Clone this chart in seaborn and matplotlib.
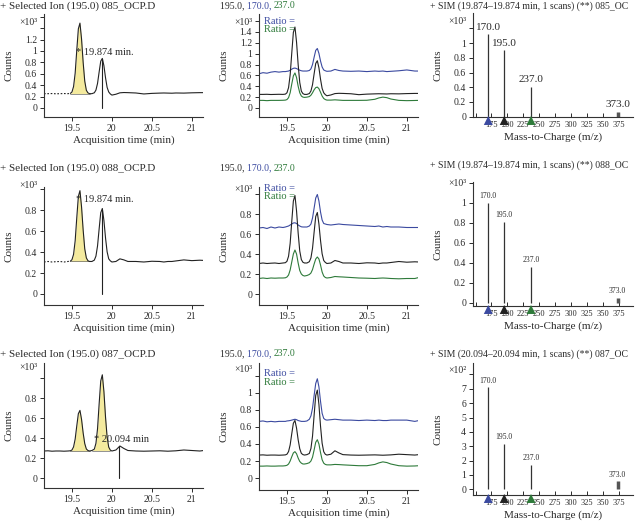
import numpy as np
import matplotlib
matplotlib.use("Agg")
import matplotlib.pyplot as plt
import matplotlib.transforms as mtransforms
import seaborn as sns

# ---- data ----
# acquisition time grid (min), shared by every chromatogram trace
time_min = [19.15, 19.2, 19.25, 19.3, 19.35, 19.4, 19.45, 19.48, 19.5, 19.52,
            19.54, 19.56, 19.58, 19.6, 19.62, 19.64, 19.66, 19.68, 19.7, 19.72,
            19.75, 19.78, 19.8, 19.82, 19.84, 19.86, 19.88, 19.9, 19.92, 19.94,
            19.96, 19.98, 20.0, 20.05, 20.1, 20.15, 20.2, 20.3, 20.4, 20.5,
            20.6, 20.65, 20.7, 20.75, 20.8, 20.9, 21.0, 21.1, 21.15]

# counts (x10^3) - sample 085_OCP.D
ion195_r1 = [0.25, 0.25, 0.252, 0.248, 0.25, 0.252, 0.25,
             0.255, 0.28, 0.375, 0.61, 1.01, 1.39, 1.49, 1.21, 0.80, 0.47, 0.31, 0.264,
             0.25, 0.25,
             0.266, 0.313, 0.43, 0.63, 0.82, 0.87, 0.74, 0.53, 0.36, 0.28, 0.245,
             0.225, 0.24, 0.265, 0.27, 0.268, 0.262, 0.245, 0.255, 0.26, 0.262,
             0.26, 0.258, 0.262, 0.26, 0.265, 0.268, 0.268]
ion170_r1 = [0.63, 0.65, 0.64, 0.66, 0.67, 0.66, 0.67,
             0.67, 0.675, 0.68, 0.695, 0.715, 0.73, 0.735, 0.725, 0.71, 0.695, 0.685, 0.68,
             0.68, 0.68,
             0.69, 0.72, 0.80, 0.935, 1.06, 1.095, 1.005, 0.865, 0.755, 0.70, 0.685,
             0.675, 0.68, 0.71, 0.69, 0.68, 0.675, 0.68, 0.67, 0.68, 0.675,
             0.68, 0.67, 0.675, 0.685, 0.70, 0.68, 0.68]
ion237_r1 = [0.14, 0.14, 0.135, 0.14, 0.14, 0.14, 0.142,
             0.145, 0.155, 0.19, 0.28, 0.44, 0.59, 0.645, 0.56, 0.40, 0.28, 0.22, 0.20,
             0.195, 0.20,
             0.21, 0.235, 0.28, 0.335, 0.375, 0.385, 0.355, 0.29, 0.22, 0.175, 0.155,
             0.145, 0.145, 0.15, 0.145, 0.14, 0.14, 0.14, 0.142, 0.16, 0.185,
             0.2, 0.19, 0.165, 0.14, 0.135, 0.138, 0.14]

# sample 088_OCP.D
ion195_r2 = [0.305, 0.31, 0.305, 0.308, 0.31, 0.305, 0.31,
             0.313, 0.327, 0.378, 0.507, 0.725, 0.93, 0.985, 0.83, 0.61, 0.43, 0.344, 0.317,
             0.31, 0.31,
             0.323, 0.361, 0.458, 0.62, 0.775, 0.815, 0.70, 0.535, 0.402, 0.335, 0.316,
             0.305, 0.31, 0.335, 0.325, 0.31, 0.31, 0.305, 0.312, 0.31, 0.305,
             0.31, 0.31, 0.315, 0.325, 0.318, 0.322, 0.32]
ion170_r2 = [0.66, 0.665, 0.655, 0.67, 0.66, 0.67, 0.665,
             0.67, 0.675, 0.68, 0.69, 0.70, 0.71, 0.712, 0.705, 0.69, 0.68, 0.672, 0.67,
             0.67, 0.67,
             0.68, 0.70, 0.76, 0.86, 0.96, 0.995, 0.93, 0.82, 0.74, 0.705, 0.70,
             0.695, 0.69, 0.695, 0.70, 0.695, 0.69, 0.685, 0.68, 0.675, 0.68,
             0.67, 0.675, 0.67, 0.67, 0.665, 0.665, 0.665]
ion237_r2 = [0.155, 0.16, 0.155, 0.16, 0.158, 0.16, 0.16,
             0.162, 0.17, 0.19, 0.24, 0.32, 0.40, 0.44, 0.40, 0.31, 0.235, 0.20, 0.185,
             0.18, 0.185,
             0.195, 0.21, 0.245, 0.30, 0.35, 0.37, 0.35, 0.29, 0.22, 0.18, 0.165,
             0.16, 0.165, 0.175, 0.172, 0.17, 0.165, 0.16, 0.158, 0.155, 0.158,
             0.16, 0.158, 0.155, 0.152, 0.155, 0.155, 0.165]

# sample 087_OCP.D
ion195_r3 = [0.27, 0.272, 0.268, 0.27, 0.27, 0.268, 0.27,
             0.272, 0.28, 0.311, 0.389, 0.52, 0.643, 0.676, 0.586, 0.45, 0.344, 0.29, 0.275,
             0.27, 0.275,
             0.289, 0.347, 0.493, 0.74, 0.97, 1.032, 0.863, 0.609, 0.409, 0.309, 0.279,
             0.27, 0.28, 0.32, 0.295, 0.275, 0.27, 0.268, 0.27, 0.272, 0.27,
             0.268, 0.27, 0.272, 0.28, 0.275, 0.27, 0.275]
ion170_r3 = [0.665, 0.67, 0.66, 0.665, 0.66, 0.665, 0.665,
             0.665, 0.67, 0.672, 0.675, 0.68, 0.685, 0.69, 0.685, 0.675, 0.67, 0.665, 0.665,
             0.665, 0.67,
             0.69, 0.73, 0.82, 0.97, 1.11, 1.165, 1.07, 0.90, 0.76, 0.70, 0.685,
             0.68, 0.685, 0.69, 0.685, 0.68, 0.68, 0.675, 0.68, 0.675, 0.68,
             0.675, 0.675, 0.68, 0.68, 0.68, 0.665, 0.675]
ion237_r3 = [0.14, 0.14, 0.142, 0.14, 0.14, 0.142, 0.142,
             0.145, 0.15, 0.165, 0.20, 0.25, 0.295, 0.31, 0.285, 0.235, 0.195, 0.175, 0.165,
             0.165, 0.17,
             0.18, 0.20, 0.245, 0.33, 0.42, 0.45, 0.40, 0.30, 0.215, 0.175, 0.16,
             0.155, 0.155, 0.16, 0.158, 0.155, 0.15, 0.145, 0.145, 0.16, 0.178,
             0.19, 0.182, 0.165, 0.145, 0.14, 0.142, 0.145]

# SIM spectra
mz_peaks = [170.0, 195.0, 237.0, 373.0]
spec_r1 = [1.12, 0.90, 0.40, 0.06]    # x10^3
spec_r2 = [1.00, 0.81, 0.36, 0.05]    # x10^3
spec_r3 = [7.1, 3.15, 1.68, 0.55]     # x10^2

chrom_titles = ["+ Selected Ion (195.0) 085_OCP.D",
                "+ Selected Ion (195.0) 088_OCP.D",
                "+ Selected Ion (195.0) 087_OCP.D"]
spec_titles = ["+ SIM (19.874\u201319.874 min, 1 scans) (**) 085_OC",
               "+ SIM (19.874\u201319.874 min, 1 scans) (**) 088_OC",
               "+ SIM (20.094\u201320.094 min, 1 scans) (**) 087_OC"]
scan_times = [19.874, 19.874, 20.094]
scan_notes = ["* 19.874 min.", "* 19.874 min.", "* 20.094 min"]
shaded_peaks = [[(19.47, 19.72)], [(19.47, 19.72)], [(19.47, 19.72), (19.75, 19.99)]]
spec_mult = ["\u00d710\u00b3", "\u00d710\u00b3", "\u00d710\u00b2"]

traces = [(ion195_r1, ion170_r1, ion237_r1),
          (ion195_r2, ion170_r2, ion237_r2),
          (ion195_r3, ion170_r3, ion237_r3)]
spectra = [spec_r1, spec_r2, spec_r3]

# ---- styling ----
sns.set_theme(style="ticks")
TXT = "#2b2b2b"
BLUE = "#3b4aa0"
GREEN = "#2e7a3a"
YELLOW = "#f4ea9e"
plt.rcParams.update({
    "font.family": ["Liberation Serif", "DejaVu Serif"],
    "text.color": TXT, "axes.labelcolor": TXT,
    "xtick.color": TXT, "ytick.color": TXT,
    "axes.edgecolor": "#333333", "axes.linewidth": 0.8,
    "xtick.major.width": 0.7, "ytick.major.width": 0.7,
    "xtick.major.size": 3, "ytick.major.size": 3,
    "xtick.labelsize": 7, "ytick.labelsize": 7,
    "axes.labelsize": 8,
})

W, H = 635, 526
fig = plt.figure(figsize=(W / 100, H / 100), dpi=100)


def px_axes(l, t, r, b):
    return fig.add_axes([l / W, 1 - b / H, (r - l) / W, (b - t) / H])


def set_y(ax, ylim, ticks, nlab, mult, mult_y):
    ax.set_ylim(*ylim)
    ax.set_yticks(ticks)
    ax.set_yticklabels([f"{v:g}" if i < nlab else "" for i, v in enumerate(ticks)])
    ax.text(-0.04, mult_y, mult, transform=ax.get_yaxis_transform(),
            ha="right", va="center", fontsize=7)
    ax.set_ylabel("Counts")
    ax.yaxis.set_label_coords(-0.19, 0.5)
    ax.tick_params(axis="y", pad=2)


def color_title(x_px, y_px, parts, size):
    renderer = fig.canvas.get_renderer()
    tr = fig.transFigure
    for s, c in parts:
        txt = fig.text(x_px / W, 1 - y_px / H, s, color=c, transform=tr,
                       fontsize=size, va="center")
        ext = txt.get_window_extent(renderer)
        tr = mtransforms.offset_copy(txt.get_transform(), x=ext.width, units="dots")


# panel boxes in pixels (left, top, right, bottom)
col_x = [(44, 203), (259, 418), (473, 633)]
row_y = [[(14, 117), (14, 117), (13, 117)],
         [(187, 305), (187, 305), (182, 306)],
         [(363, 488), (363, 490), (363, 495)]]
title_y = [[6, 6, 6], [168, 168, 165], [354, 354, 354]]

chrom_y = [((-0.16, 1.65), np.arange(0, 1.61, 0.2), 7, 1.5),
           ((-0.105, 1.02), np.arange(0, 1.01, 0.2), 5, 1.03),
           ((-0.10, 1.15), np.arange(0, 1.01, 0.2), 5, 1.1)]
ratio_y = [((-0.166, 1.73), np.arange(0, 1.61, 0.2), 8, 1.58, 0.93, 0.85),
           ((-0.11, 1.07), np.arange(0, 1.01, 0.2), 5, 1.05, 0.99, 0.92),
           ((-0.14, 1.35), np.arange(0, 1.21, 0.2), 6, 1.27, 0.92, 0.85)]
spec_y = [((-0.005, 1.41), np.arange(0, 1.21, 0.2), 6, 1.3, 8),
          ((-0.03, 1.21), np.arange(0, 1.21, 0.2), 6, 1.2, 5.5),
          ((-0.4, 8.8), np.arange(0, 8.1, 1), 8, 8.3, 5.5)]
note_pos = [(19.55, 0.97), (19.55, 0.90), (19.78, 0.39)]

t_arr = np.array(time_min)
for r in range(3):
    ion195, ion170, ion237 = traces[r]
    y195 = np.array(ion195)

    # ---- column 1: selected ion chromatogram ----
    (l, rr), (t, b) = col_x[0], row_y[r][0]
    ax = px_axes(l, t, rr, b)
    for a0, a1 in shaded_peaks[r]:
        m = (t_arr >= a0) & (t_arr <= a1)
        base = y195[m].min()
        ax.fill_between(t_arr[m], base, y195[m], color=YELLOW, lw=0)
        ax.plot([t_arr[m][0], t_arr[m][-1]], [base, base], color="#666666", lw=0.5)
    if r < 2:
        ax.plot(t_arr[:8], y195[:8], color="#222222", lw=0.8, ls=(0, (1.5, 1.5)))
        sns.lineplot(x=time_min[7:], y=ion195[7:], ax=ax, color="#222222", lw=0.8)
    else:
        sns.lineplot(x=time_min, y=ion195, ax=ax, color="#222222", lw=0.8)
    st = scan_times[r]
    ax.plot([st, st], [0, np.interp(st, t_arr, y195)], color="#222222", lw=0.8)
    ax.text(note_pos[r][0], note_pos[r][1], scan_notes[r], fontsize=7.5, va="center")
    ylim, ticks, nlab, my = chrom_y[r]
    set_y(ax, ylim, ticks, nlab, "\u00d710\u00b3", my)
    ax.set_xlim(19.15, 21.14)
    ax.set_xticks([19.5, 20, 20.5, 21])
    ax.set_xticklabels(["19.5", "20", "20.5", "21"])
    ax.set_xlabel("Acquisition time (min)", labelpad=2)
    ax.tick_params(axis="x", pad=2)
    sns.despine(ax=ax)
    fig.text(0 / W, 1 - title_y[r][0] / H, chrom_titles[r], fontsize=8, va="center")

    # ---- column 2: qualifier ion overlay ----
    (l, rr), (t, b) = col_x[1], row_y[r][1]
    ax = px_axes(l, t, rr, b)
    sns.lineplot(x=time_min, y=ion170, ax=ax, color=BLUE, lw=0.8)
    sns.lineplot(x=time_min, y=ion237, ax=ax, color=GREEN, lw=0.8)
    sns.lineplot(x=time_min, y=ion195, ax=ax, color="#222222", lw=0.8)
    ylim, ticks, nlab, my, ry1, ry2 = ratio_y[r]
    set_y(ax, ylim, ticks, nlab, "\u00d710\u00b3", my)
    ax.text(0.03, ry1, "Ratio =", color=BLUE, fontsize=7.5, transform=ax.transAxes, va="center")
    ax.text(0.03, ry2, "Ratio =", color=GREEN, fontsize=7.5, transform=ax.transAxes, va="center")
    ax.set_xlim(19.15, 21.14)
    ax.set_xticks([19.5, 20, 20.5, 21])
    ax.set_xticklabels(["19.5", "20", "20.5", "21"])
    ax.set_xlabel("Acquisition time (min)", labelpad=2)
    ax.tick_params(axis="x", pad=2)
    sns.despine(ax=ax)
    color_title(220, title_y[r][1], [("195.0, ", TXT), ("170.0, ", BLUE), ("237.0", GREEN)], 7)

    # ---- column 3: SIM spectrum ----
    (l, rr), (t, b) = col_x[2], row_y[r][2]
    ax = px_axes(l, t, rr, b)
    spec = spectra[r]
    ax.vlines(mz_peaks[:3], 0, spec[:3], color="#333333", lw=0.9)
    ax.vlines(mz_peaks[3], 0, spec[3], color="#555555", lw=2.5)
    ylim, ticks, nlab, my, lab_fs = spec_y[r]
    for mz, v in zip(mz_peaks, spec):
        ax.annotate(f"{mz:.1f}", (mz, v), xytext=(0, 2), textcoords="offset points",
                    ha="center", va="bottom", fontsize=lab_fs)
    tri_tr = ax.get_xaxis_transform() + mtransforms.ScaledTranslation(0, -2.5 / 72, fig.dpi_scale_trans)
    ax.scatter(mz_peaks[:3], [0, 0, 0], marker="^", s=42, c=[BLUE, "#222222", GREEN],
               transform=tri_tr, clip_on=False, zorder=5, linewidths=0)
    set_y(ax, ylim, ticks, nlab, spec_mult[r], my)
    ax.set_xlim(146, 397)
    xt = list(range(150, 376, 25))
    ax.set_xticks(xt)
    ax.set_xticklabels(["" if v == 150 else str(v) for v in xt])
    ax.tick_params(axis="x", direction="in", labelsize=6, pad=3)
    ax.set_xlabel("Mass-to-Charge (m/z)", labelpad=2)
    sns.despine(ax=ax)
    fig.text(430 / W, 1 - title_y[r][2] / H, spec_titles[r], fontsize=7, va="center")

fig.savefig("out.png", dpi=100)
